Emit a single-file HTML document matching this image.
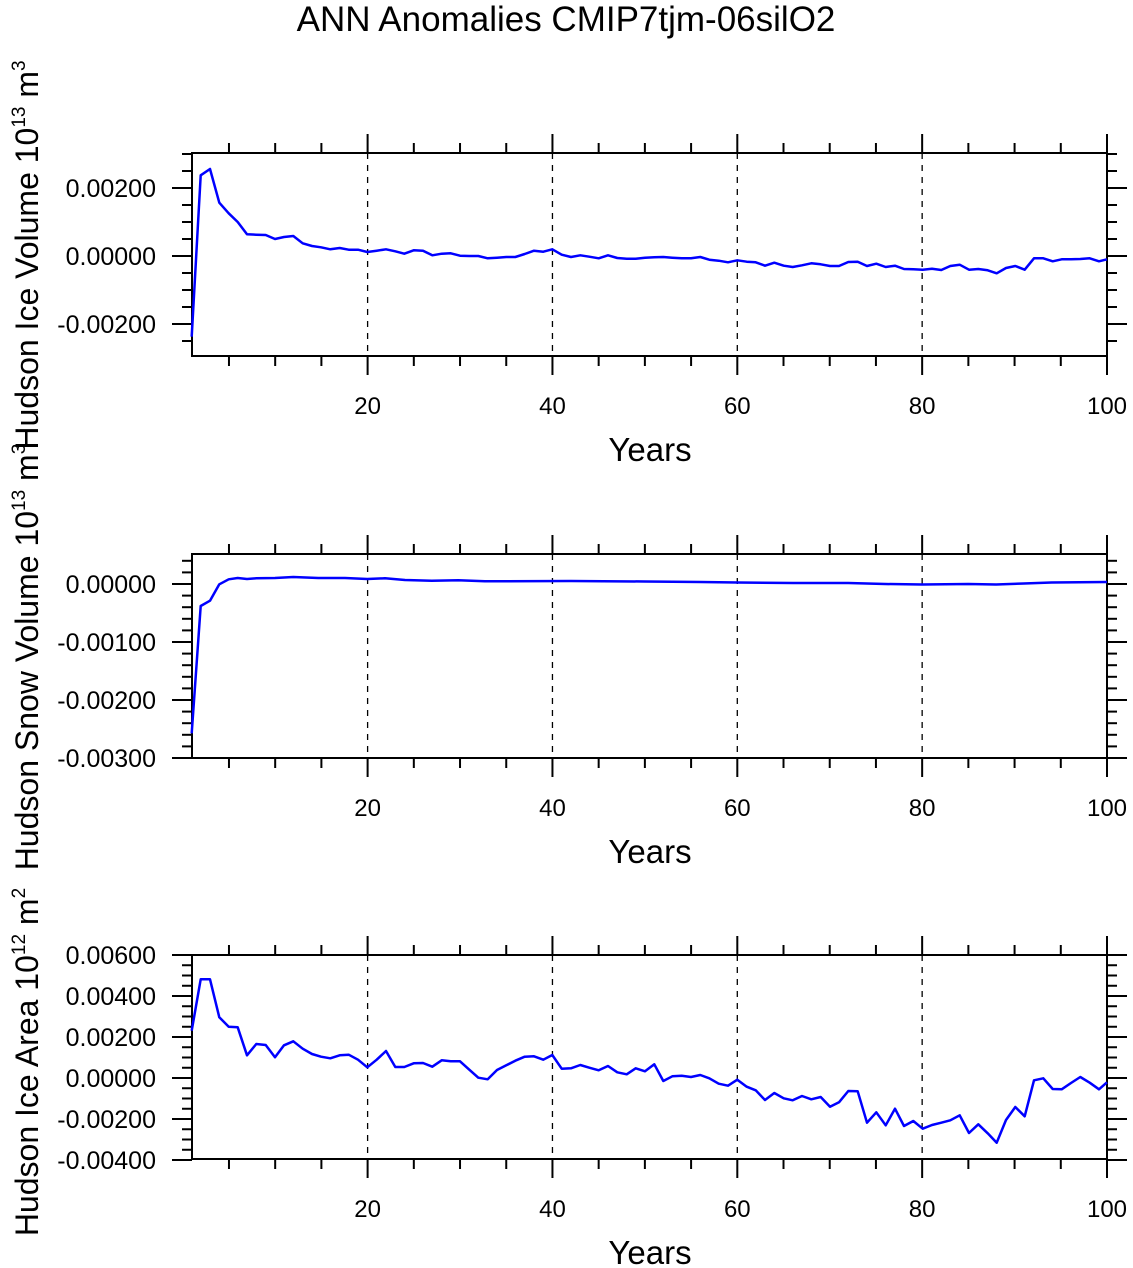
<!DOCTYPE html>
<html><head><meta charset="utf-8"><style>
html,body{margin:0;padding:0;background:#fff}
svg{display:block;font-family:"Liberation Sans",Helvetica,Arial,sans-serif}
</style></head><body>
<svg id="s" width="1133" height="1268" viewBox="0 0 1133 1268" xmlns="http://www.w3.org/2000/svg">
<text x="566" y="31" font-size="35" text-anchor="middle">ANN Anomalies CMIP7tjm-06silO2</text>
<text transform="translate(38,255) rotate(-90)" font-size="32" text-anchor="middle">Hudson Ice Volume 10<tspan dy="-13" font-size="19">13</tspan><tspan dy="13"> m</tspan><tspan dy="-13" font-size="19">3</tspan></text>
<text transform="translate(38,657) rotate(-90)" font-size="32" text-anchor="middle">Hudson Snow Volume 10<tspan dy="-13" font-size="19">13</tspan><tspan dy="13"> m</tspan><tspan dy="-13" font-size="19">3</tspan></text>
<text transform="translate(38,1062) rotate(-90)" font-size="32" text-anchor="middle">Hudson Ice Area 10<tspan dy="-13" font-size="19">12</tspan><tspan dy="13"> m</tspan><tspan dy="-13" font-size="19">2</tspan></text>
<g id="g"></g>
</svg>
<script>
var g=document.getElementById('g'),h='';
var L=192,R=1107;
function X(yr){return L+(yr-1)*(R-L)/99;}
function panel(top,bot,y0,sc,maj,minr,vmin,vmax,labs){
  [20,40,60,80].forEach(function(yr){var x=X(yr);h+='<line x1="'+x+'" y1="'+top+'" x2="'+x+'" y2="'+bot+'" stroke="#000" stroke-width="1.3" stroke-dasharray="6,6"/>';});
  for(var yr=5;yr<=100;yr+=5){var x=X(yr),M=(yr%20==0),l=M?19:10;
    h+='<line x1="'+x+'" y1="'+bot+'" x2="'+x+'" y2="'+(bot+l)+'" stroke="#000" stroke-width="2"/>';
    h+='<line x1="'+x+'" y1="'+top+'" x2="'+x+'" y2="'+(top-l)+'" stroke="#000" stroke-width="2"/>';
    if(M)h+='<text x="'+x+'" y="'+(bot+58)+'" font-size="24" text-anchor="middle">'+yr+'</text>';}
  var n0=Math.ceil(vmin/minr-1e-6),n1=Math.floor(vmax/minr+1e-6);
  for(var k=n0;k<=n1;k++){var v=k*minr,y=y0-v*sc,M=Math.abs(v/maj-Math.round(v/maj))<1e-6,l=M?20:10;
    h+='<line x1="'+L+'" y1="'+y+'" x2="'+(L-l)+'" y2="'+y+'" stroke="#000" stroke-width="2"/>';
    h+='<line x1="'+R+'" y1="'+y+'" x2="'+(R+l)+'" y2="'+y+'" stroke="#000" stroke-width="2"/>';}
  labs.forEach(function(a){h+='<text x="156" y="'+(y0-a[0]*sc+9)+'" font-size="25" text-anchor="end">'+a[1]+'</text>';});
  h+='<rect x="'+L+'" y="'+top+'" width="'+(R-L)+'" height="'+(bot-top)+'" fill="none" stroke="#000" stroke-width="2"/>';
  h+='<text x="650" y="'+(bot+105)+'" font-size="33" text-anchor="middle">Years</text>';
}
panel(153,356,256,34000,0.002,0.0005,-0.00294,0.00303,[[0.002,'0.00200'],[0,'0.00000'],[-0.002,'-0.00200']]);
panel(554,758,584,58000,0.001,0.0002,-0.003,0.00052,[[0,'0.00000'],[-0.001,'-0.00100'],[-0.002,'-0.00200'],[-0.003,'-0.00300']]);
panel(955,1159,1078,20500,0.002,0.0005,-0.004,0.006,[[0.006,'0.00600'],[0.004,'0.00400'],[0.002,'0.00200'],[0,'0.00000'],[-0.002,'-0.00200'],[-0.004,'-0.00400']]);
function conv(arr,ox,oy){var o=[];for(var i=0;i<arr.length;i+=2)o.push((ox+arr[i]/3).toFixed(1)+','+(oy+arr[i+1]/3).toFixed(1));return o;}
var a1=[20,560,47,76,75,57,103,158,131,190,158,216,186,253,214,254,242,255,270,267,297,261,325,258,353,280,381,288,408,292,436,298,464,294,491,299,519,299,547,306,575,302,603,298,631,304,658,311,686,301,714,302,742,316,770,311,797,310,825,317,853,318,880,318,908,325,936,323,964,321,991,321,1019,312,1047,302,1075,305,1102,298,1130,314,1158,321,1186,316,1213,320,1241,325,1269,316,1297,324,1325,326,1352,326,1380,323,1408,322];
var b1=[70,111,97,113,125,115,153,115,181,111,208,119,236,122,264,127,292,121,320,125,347,127,375,137,403,128,431,137,458,141,486,136,514,130,542,133,570,138,597,138,625,126,653,125,681,138,709,131,737,141,765,137,792,147,820,148,848,149,876,146,904,150,931,138,959,134,987,149,1015,147,1043,151,1070,160,1098,144,1126,138,1154,149,1182,115,1210,115,1238,124,1265,118,1293,118,1321,117,1349,115,1377,124,1401,118];
var p1=conv(a1,185,150).concat(conv(b1,640,220));
var a2=[20,520,47,138,75,122,103,73,131,58,158,54,186,57,214,55,270,54,325,51,400,54,480,54,547,57,600,55,660,60,740,62,820,61,900,64];
var p2=conv(a2,185,560);
var rest=[[42,581],[50,581.5],[56,582],[60,582.5],[66,583],[72,583],[76,584],[80,584.5],[85,584],[88,584.5],[91,583.5],[94,582.5],[100,582]];
rest.forEach(function(r){p2.push(X(r[0]).toFixed(1)+','+r[1]);});
var a3=[20,212,47,58,75,58,103,172,131,200,158,202,186,286,214,252,242,255,270,292,297,256,325,244,353,266,381,282,408,290,436,295,464,286,491,284,519,299,547,322,575,299,603,273,631,321,658,321,686,310,714,309,742,320,770,301,797,304,825,304,853,329,880,353,908,358,936,330,964,316,991,302,1019,290,1047,289,1075,299,1102,285,1130,326,1158,325,1186,315,1213,323,1241,331,1269,318,1297,337,1325,343,1352,325,1380,334,1408,313];
var b3=[70,363,97,349,125,347,153,351,181,345,208,355,236,371,264,377,292,359,320,380,347,391,375,420,403,399,431,415,458,421,486,408,514,418,542,411,570,440,597,427,625,393,653,394,681,488,709,457,737,496,765,446,792,498,820,483,848,506,876,495,904,488,931,481,959,466,987,519,1015,493,1043,520,1070,548,1098,480,1126,441,1154,469,1182,361,1210,355,1238,387,1265,388,1293,369,1321,351,1349,368,1377,388,1401,367];
var p3=conv(a3,185,960).concat(conv(b3,640,960));
[p1,p2,p3].forEach(function(p){h+='<polyline points="'+p.join(' ')+'" fill="none" stroke="#0000ff" stroke-width="2.5" stroke-linejoin="round"/>';});
g.innerHTML=h;
</script>
</body></html>
